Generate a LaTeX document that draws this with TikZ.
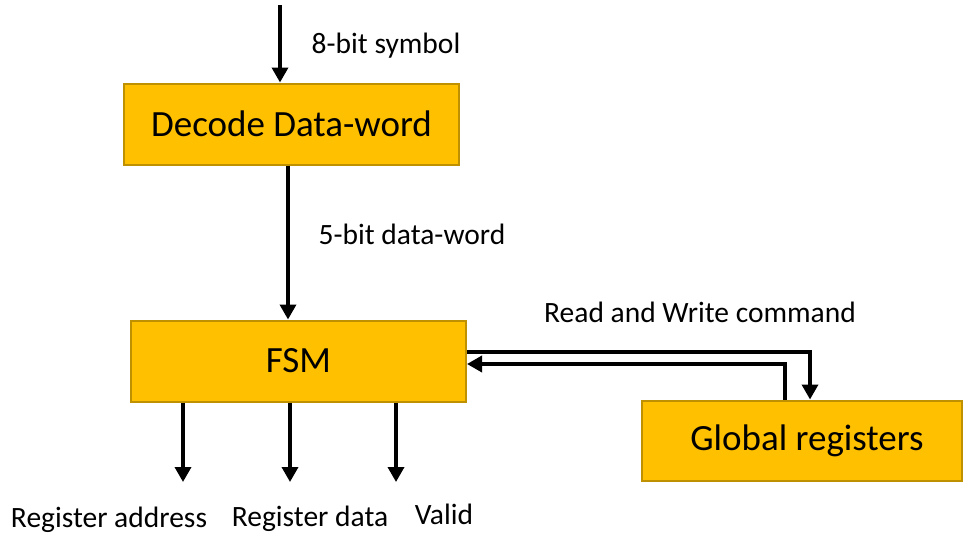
\documentclass[tikz,border=0pt]{standalone}
\usepackage{fontspec}
\setmainfont{Carlito}
\usetikzlibrary{arrows.meta}
\definecolor{blockfill}{HTML}{FFC000}
\definecolor{blockedge}{HTML}{BF9000}
\tikzset{
  block/.style={draw=blockedge, line width=2pt, fill=blockfill, inner sep=0pt,
    font=\fontsize{37}{41}\selectfont},
  lbl/.style={font=\fontsize{29.5}{33}\selectfont, inner sep=0pt, anchor=base},
  sig/.style={line width=3.5pt, -{Triangle[width=16pt,length=15pt]}},
  wire/.style={line width=3.5pt}
}
\begin{document}
\begin{tikzpicture}[x=1pt,y=-1pt]
\useasboundingbox (0,0) rectangle (968,535);
% blocks
\node[block, minimum width=335pt, minimum height=81pt] (dec) at (291.5,124) {Decode Data-word};
\node[block, minimum width=335pt, minimum height=81pt] (fsm) at (298.5,361) {FSM};
\node[block, minimum width=320pt, minimum height=80pt] (glob) at (802,440.5) {\hspace*{10pt}Global registers};
% input symbol
\coordinate (in) at (280,5);
\draw[sig] (in) -- (dec.north -| in);
\node[lbl] (lsym) at (386,53) {8-bit symbol};
% data-word to FSM
\draw[sig] (dec.south -| 288,0) -- (fsm.north -| 288,0);
\node[lbl] (lword) at (412,244) {5-bit data-word};
% FSM outputs
\coordinate (oa) at (183,482);
\coordinate (od) at (290,482);
\coordinate (ov) at (396,482);
\draw[sig] (fsm.south -| oa) -- (oa);
\draw[sig] (fsm.south -| od) -- (od);
\draw[sig] (fsm.south -| ov) -- (ov);
\node[lbl] (laddr) at (109,527) {Register address};
\node[lbl] (ldata) at (310,526) {Register data};
\node[lbl] (lvalid) at (444,524) {Valid};
% read/write command link
\coordinate (cmdturn) at (810,352);
\coordinate (retturn) at (785,364);
\draw[wire, line join=miter] (fsm.east |- cmdturn) -- (cmdturn) -- ++(0,1);
\draw[sig] (cmdturn) -- (glob.north -| cmdturn);
\draw[sig, line join=miter] (glob.north -| retturn) -- (retturn) -- (fsm.east |- retturn);
\node[lbl] (lcmd) at (700,322) {Read and Write command};
\end{tikzpicture}
\end{document}
